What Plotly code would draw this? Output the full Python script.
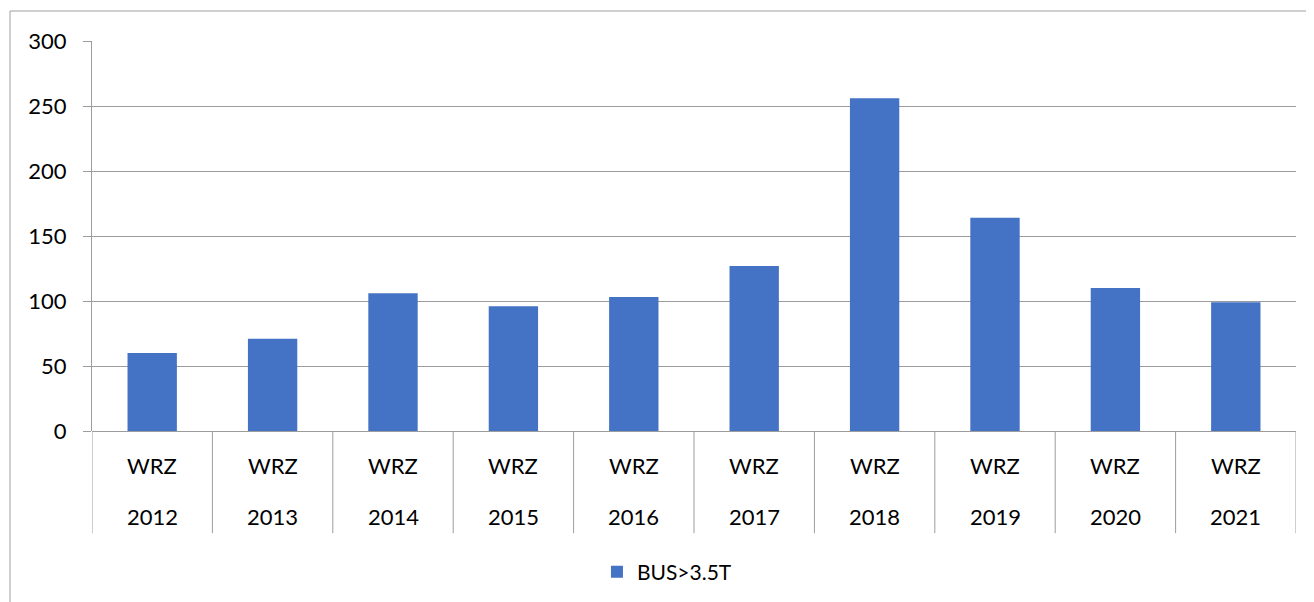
import plotly.graph_objects as go

years = ["2012", "2013", "2014", "2015", "2016", "2017", "2018", "2019", "2020", "2021"]
inner_labels = ["WRZ"] * 10
values = [60, 71, 106, 96, 103, 127, 256, 164, 110, 99]
series_name = "BUS>3.5T"
y_ticks = [0, 50, 100, 150, 200, 250, 300]

BAR = "#4472C4"
GRID = "#9C9C9C"
FONT = "Lato, 'Liberation Sans', sans-serif"

xs = list(range(len(years)))

fig = go.Figure()
fig.add_trace(go.Bar(
    x=xs, y=values, name=series_name, marker_color=BAR,
    marker_line_width=0, width=0.41, showlegend=True,
))

shapes = []
# category separators below axis
for i in range(len(years) + 1):
    shapes.append(dict(type="line", xref="x", yref="paper",
                       x0=i - 0.5, x1=i - 0.5, y0=0, y1=-0.262,
                       line=dict(color=GRID, width=1)))
# chart border
shapes.append(dict(type="rect", xref="paper", yref="paper",
                   x0=-0.0681, x1=1.2, y0=-0.6, y1=1.0769,
                   line=dict(color="#A0A0A0", width=1), layer="below"))

annotations = []
for i, (w, yr) in enumerate(zip(inner_labels, years)):
    annotations.append(dict(x=i, y=-0.0897, xref="x", yref="paper", text=w,
                            showarrow=False, yanchor="middle",
                            font=dict(size=22, color="#000000", family=FONT)))
    annotations.append(dict(x=i, y=-0.2205, xref="x", yref="paper", text=yr,
                            showarrow=False, yanchor="middle",
                            font=dict(size=22, color="#000000", family=FONT)))

fig.update_layout(
    width=1314, height=602,
    margin=dict(l=84, r=26, t=33, b=179),
    paper_bgcolor="white", plot_bgcolor="white",
    font=dict(family=FONT, size=22, color="#000000"),
    xaxis=dict(range=[-0.5, len(years) - 0.5], showticklabels=False,
               showgrid=False, zeroline=False, showline=False, ticks=""),
    yaxis=dict(range=[0, 300], tickvals=y_ticks, showgrid=True,
               gridcolor=GRID, gridwidth=1, zeroline=True,
               zerolinecolor=GRID, zerolinewidth=1,
               showline=True, linecolor=GRID, linewidth=1,
               ticks="outside", ticklen=8, tickcolor=GRID,
               ticklabelstandoff=12,
               tickfont=dict(size=22, family=FONT, color="#000000")),
    legend=dict(orientation="h", x=0.4194, xanchor="left", y=-0.3615,
                yanchor="middle", font=dict(size=21, family=FONT)),
    shapes=shapes, annotations=annotations,
    bargap=0.59,
)

fig.write_html("out.html")
